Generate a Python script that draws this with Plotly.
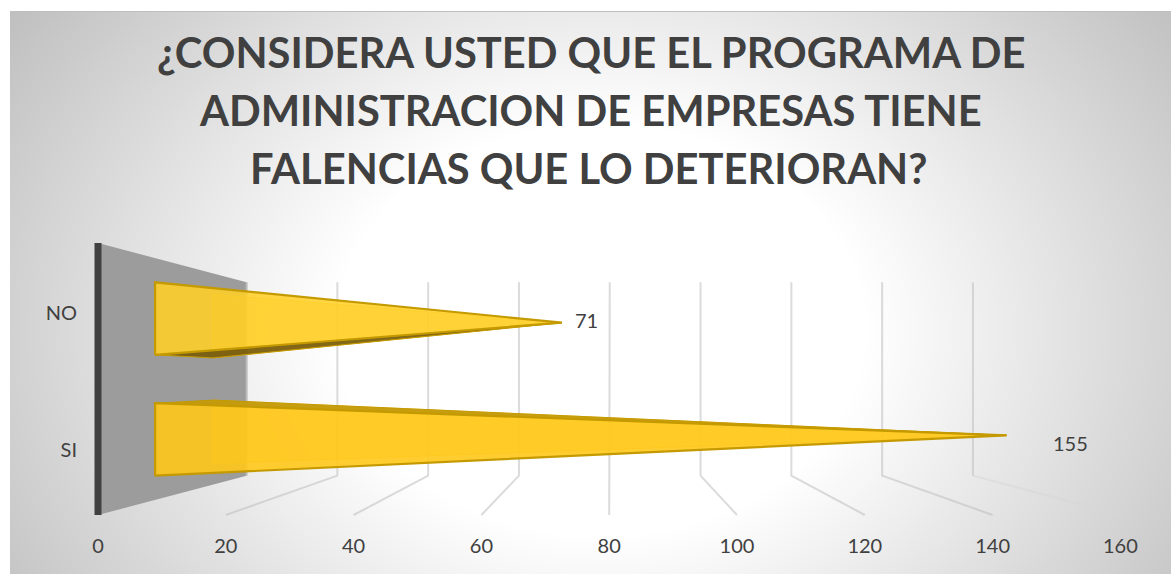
import base64, struct, zlib
import numpy as np
import plotly.graph_objects as go

# ---- data ----
categories = ["SI", "NO"]
values = [155, 71]
tick_values = [0, 20, 40, 60, 80, 100, 120, 140, 160]
title_lines = ["¿CONSIDERA USTED QUE EL PROGRAMA DE",
               "ADMINISTRACION DE EMPRESAS TIENE",
               "FALENCIAS QUE LO DETERIORAN?"]

# ---- figure frame ----
W, H = 1171, 574
PX_PER_UNIT = 6.39      # front-edge scale of the value axis
X0_PX = 98              # pixel of value 0 at the front edge
LEFT, BOTTOM = 78, 44
FLOOR_PX, CEIL_PX = 515, 243
PLOT_W, PLOT_H = W - LEFT, H - BOTTOM

# ---- 3-D projection of the chart box ----
VANISH_V = 80.3
DEPTH_K = 0.4075

def project(v, h, d):
    w = 1 + DEPTH_K * d
    return VANISH_V + (v - VANISH_V) / w, 0.5 + (h - 0.5) / w

def poly(points):
    xs, ys = zip(*[project(*p) for p in points])
    return list(xs), list(ys)

# ---- background picture: radial grey fade ----
def background_png():
    bw, bh = W - 10, H - 11
    yy, xx = np.mgrid[0:bh, 0:bw]
    nx = (xx + 10 - 600) / 580
    ny = (yy + 11 - 330) / 450
    t = np.sqrt(nx ** 2 + ny ** 2)
    c = 255 - np.clip((t - 0.46) / 0.80, 0, 1) * (255 - 190)
    img = c.astype(np.uint8)
    img[0, :] = 190
    raw = b"".join(b"\x00" + img[i].tobytes() for i in range(bh))
    def chunk(tag, data):
        return struct.pack(">I", len(data)) + tag + data + struct.pack(">I", zlib.crc32(tag + data))
    png = (b"\x89PNG\r\n\x1a\n" + chunk(b"IHDR", struct.pack(">IIBBBBB", bw, bh, 8, 0, 0, 0, 0))
           + chunk(b"IDAT", zlib.compress(raw, 9)) + chunk(b"IEND", b""))
    return "data:image/png;base64," + base64.b64encode(png).decode()

fig = go.Figure()

def add_poly(points, fill=None, line=None, width=0, closed=True):
    xs, ys = poly(points)
    if closed:
        xs.append(xs[0]); ys.append(ys[0])
    fig.add_trace(go.Scatter(
        x=xs, y=ys, mode="lines", fill="toself" if fill else "none",
        fillcolor=fill, line=dict(color=line or "rgba(0,0,0,0)", width=width),
        hoverinfo="skip", showlegend=False))

# side wall
add_poly([(0, 0, 0), (0, 1, 0), (0, 1, 1), (0, 0, 1)], fill="#9c9c9c")

# gridlines: along the back wall and across the floor
GRID = "rgba(190,190,190,0.55)"
for tv in tick_values[:-1]:
    add_poly([(tv, 1, 1), (tv, 0, 1), (tv, 0, 0)] if tv else [(tv, 1, 1), (tv, 0, 1)],
             line=GRID if tv else "#b8b8b8", width=2, closed=False)
# last floor line fades out
add_poly([(tick_values[-1], 1, 1), (tick_values[-1], 0, 1)], line=GRID, width=2, closed=False)
xs, ys = poly([(tick_values[-1], 0, 1), (tick_values[-1], 0, 0)])
fig.add_trace(go.Scatter(x=xs, y=ys, mode="lines", line=dict(color="rgba(215,215,215,0.55)", width=2),
                         hoverinfo="skip", showlegend=False))

# pyramids
D0, D1 = 0.307, 0.709
DC = (D0 + D1) / 2
HALF = 0.15
EDGE = "#c49a00"
FRONT = {"SI": "rgba(255,200,25,0.9)", "NO": "rgba(255,207,40,0.88)"}
for i, (cat, val) in enumerate(zip(categories, values)):
    hc = 0.25 + 0.5 * i
    lo, hi = hc - HALF, hc + HALF
    tip = (val, hc, DC)
    # rear facet
    add_poly([(0, lo, D1), (0, hi, D1), tip], fill="rgba(255,192,0,0.35)", line="rgba(235,180,0,0.6)", width=1)
    # the facet facing the viewer's eye line (darker)
    if hc > 0.5:
        add_poly([(0, lo, D0), (0, lo, D1), tip], fill="rgba(120,92,10,0.92)", line=EDGE, width=1)
    else:
        add_poly([(0, hi, D0), (0, hi, D1), tip], fill="rgba(196,154,10,0.95)", line=EDGE, width=1)
    # front facet
    add_poly([(0, lo, D0), (0, hi, D0), tip], fill=FRONT[cat], line=EDGE, width=2.2)

# the vertical axis pillar
add_poly([(0, 0, 0), (0, 1, 0)], line="#404040", width=7, closed=False)

# value labels
label_dx = [6.9, 1.7]
label_dy = [-0.027, 0.01]
for val, i_dx, i_dy, hc in zip(values, label_dx, label_dy, [0.25, 0.75]):
    x, y = project(val, hc, DC)
    fig.add_annotation(x=x + i_dx, y=y + i_dy, text=str(val), showarrow=False, xanchor="left",
                       yanchor="middle", font=dict(family="Lato", size=20, color="#404040"))

# title, one line per annotation so the leading can follow the reference
title_centre_px = [52, 110, 168]
title_middle_px = [591, 590, 588]
for line, cx, cy in zip(title_lines, title_middle_px, title_centre_px):
    fig.add_annotation(text=line, xref="paper", yref="paper", x=(cx - LEFT) / PLOT_W, y=1 - cy / PLOT_H,
                       xanchor="center", yanchor="middle", showarrow=False,
                       font=dict(family="Lato", size=41.7, color="#404040", weight="bold"))

fig.update_layout(
    width=W, height=H,
    margin=dict(l=LEFT, r=0, t=0, b=BOTTOM, pad=0),
    paper_bgcolor="white", plot_bgcolor="rgba(0,0,0,0)",
    showlegend=False,
    xaxis=dict(range=[(LEFT - X0_PX) / PX_PER_UNIT, (W - X0_PX) / PX_PER_UNIT],
               tickmode="array", tickvals=tick_values, ticks="", showgrid=False, zeroline=False,
               showline=False, ticklabelstandoff=2, tickfont=dict(family="Lato", size=20, color="#404040")),
    yaxis=dict(range=[(FLOOR_PX - PLOT_H) / (FLOOR_PX - CEIL_PX), FLOOR_PX / (FLOOR_PX - CEIL_PX)],
               tickmode="array", tickvals=[0.239, 0.7426], ticktext=categories, ticks="", showgrid=False,
               zeroline=False, showline=False, tickfont=dict(family="Lato", size=20, color="#404040")),
    images=[dict(source=background_png(), xref="paper", yref="paper",
                 x=(10 - LEFT) / PLOT_W, y=(PLOT_H - 11) / PLOT_H,
                 sizex=(W - 10) / PLOT_W, sizey=(H - 11) / PLOT_H,
                 xanchor="left", yanchor="top", sizing="stretch", layer="below")],
)

fig.write_html("out.html", config={"displayModeBar": False},
               post_script="document.body.style.margin='0';")
